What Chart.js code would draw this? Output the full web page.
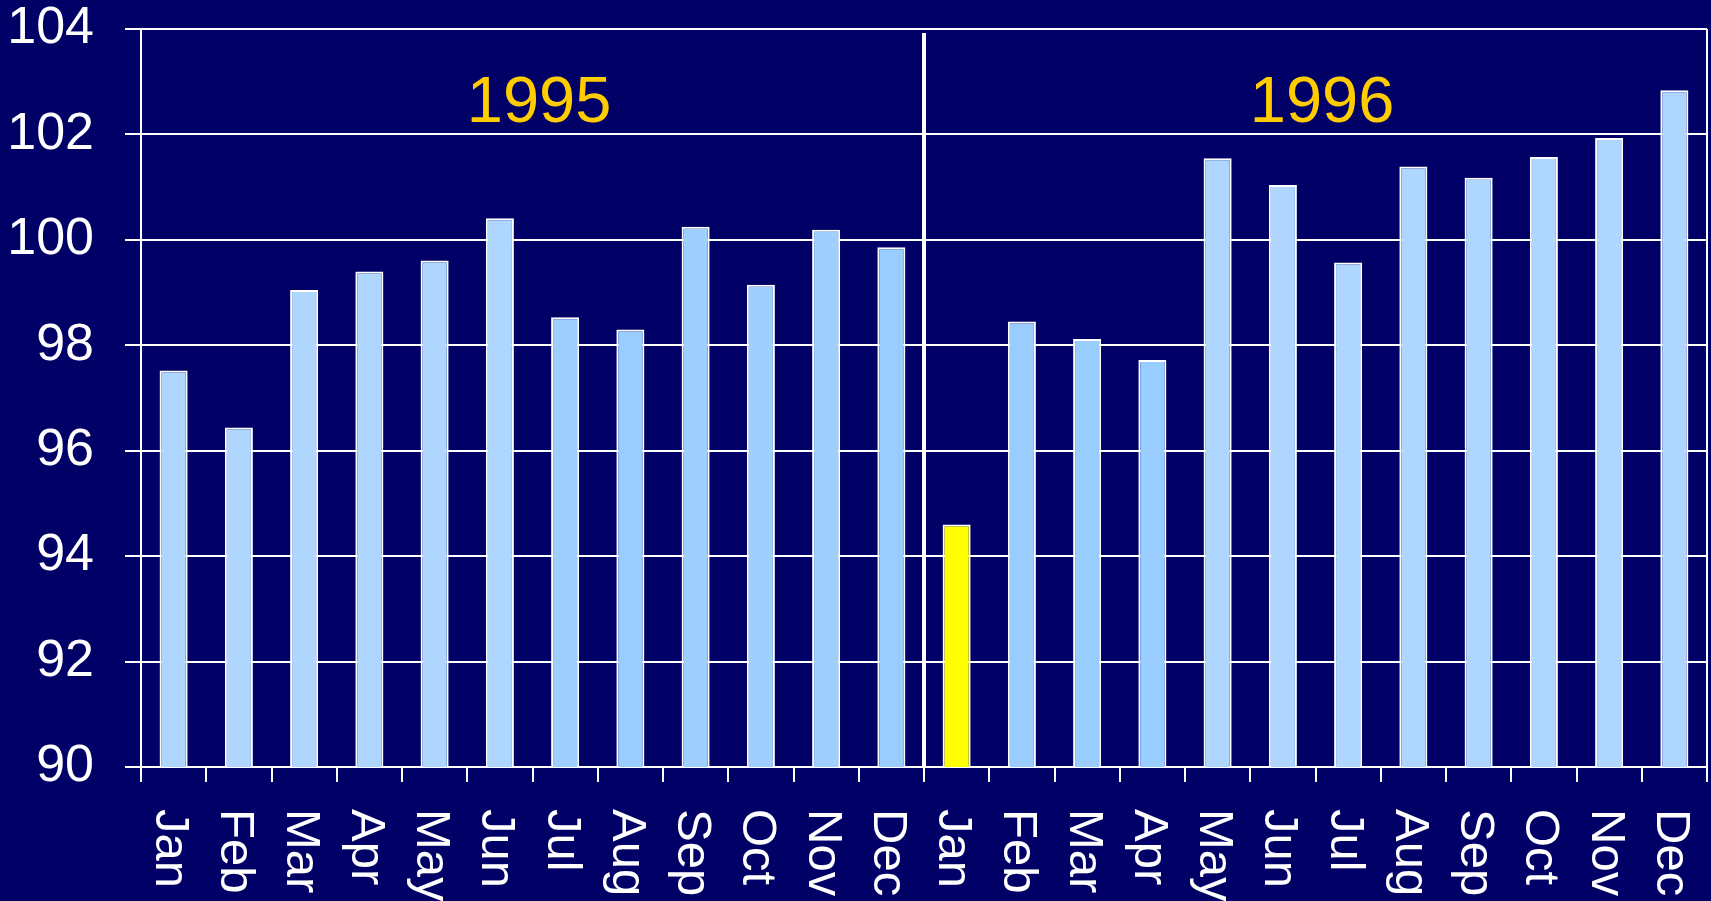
<!DOCTYPE html>
<html>
<head>
<meta charset="utf-8">
<script src="https://cdn.jsdelivr.net/npm/chart.js@4.4.1/dist/chart.umd.min.js"></script>
<style>
  html, body { margin: 0; padding: 0; background: #000066; overflow: hidden; }
  #wrap { width: 1711px; height: 901px; }
</style>
</head>
<body>
<div id="wrap"><canvas id="chartCanvas"></canvas></div>
<script>
// data
const months = ["Jan", "Feb", "Mar", "Apr", "May", "Jun", "Jul", "Aug", "Sep", "Oct", "Nov", "Dec"];
const years = ["1995", "1996"];
const labels = [...months, ...months];

const values1995 = [97.52, 96.44, 99.05, 99.40, 99.61, 100.41, 98.53, 98.30, 100.25, 99.15, 100.19, 99.86];
const values1996 = [94.60, 98.45, 98.12, 97.72, 101.55, 101.04, 99.57, 101.39, 101.18, 101.57, 101.93, 102.84];
const values = [...values1995, ...values1996];

const yTicks = [90, 92, 94, 96, 98, 100, 102, 104];

// bar fill (a couple of shades of light blue, Jan 96 highlighted)
const LIGHT = "#AED6FF";
const MID = "#9FCFFF";
const DARK = "#99CCFF";
const barColors = [
    LIGHT, LIGHT, LIGHT, LIGHT, LIGHT, LIGHT, MID, DARK, MID, MID, MID, DARK,
    "#FFFF00", DARK, DARK, DARK, LIGHT, LIGHT, LIGHT, LIGHT, LIGHT, LIGHT, LIGHT, LIGHT,
];

const FONT = "'Liberation Sans', Arial, sans-serif";

// year titles, divider, right frame and rotated month labels
const extras = {
    id: "extras",
    afterDatasetsDraw(chart) {
        const { ctx, chartArea, scales } = chart;
        const x = scales.x;
        ctx.save();

        // right frame
        ctx.strokeStyle = "#ffffff";
        ctx.lineWidth = 2;
        ctx.beginPath();
        ctx.moveTo(chartArea.right, chartArea.top);
        ctx.lineTo(chartArea.right, chartArea.bottom);
        ctx.stroke();

        // divider between the two years
        const divX = x.getPixelForValue(11.5);
        ctx.lineWidth = 4;
        ctx.beginPath();
        ctx.moveTo(divX, chartArea.top + 4);
        ctx.lineTo(divX, chartArea.bottom);
        ctx.stroke();

        // year titles
        ctx.fillStyle = "#FFCC00";
        ctx.font = `65px ${FONT}`;
        ctx.textAlign = "center";
        ctx.textBaseline = "alphabetic";
        ctx.fillText(years[0], x.getPixelForValue(5.6), 122);
        ctx.fillText(years[1], x.getPixelForValue(17.6), 122);

        // month labels, turned clockwise
        const size = 49;
        const capH = size * 0.716;
        ctx.fillStyle = "#ffffff";
        ctx.font = `${size}px ${FONT}`;
        ctx.textAlign = "left";
        labels.forEach((lab, i) => {
            const px = x.getPixelForTick(i);
            ctx.save();
            ctx.translate(px - capH / 2, chartArea.bottom + 42);
            ctx.rotate(Math.PI / 2);
            ctx.fillText(lab, 0, 0);
            ctx.restore();
        });

        ctx.restore();
    },
};

const ctx = document.getElementById("chartCanvas").getContext("2d");

new Chart(ctx, {
    type: "bar",
    data: {
        labels,
        datasets: [
            {
                data: values,
                backgroundColor: barColors,
                borderColor: "#ffffff",
                borderWidth: 2,
                categoryPercentage: 1,
                barPercentage: 0.43,
            },
        ],
    },
    options: {
        responsive: true,
        maintainAspectRatio: false,
        animation: false,
        devicePixelRatio: 1,
        layout: { padding: { top: 0, right: 4, left: 0, bottom: 0 } },
        plugins: {
            legend: { display: false },
            tooltip: { enabled: false },
        },
        scales: {
            x: {
                afterFit: s => { s.height = 134; },
                ticks: { display: false },
                grid: {
                    display: true,
                    offset: true,
                    drawOnChartArea: false,
                    drawTicks: true,
                    tickLength: 15,
                    color: "#ffffff",
                    lineWidth: 2,
                },
                border: { display: true, color: "#ffffff", width: 2 },
            },
            y: {
                min: yTicks[0],
                max: yTicks[yTicks.length - 1],
                afterFit: s => { s.width = 141; s.paddingTop = 29; },
                afterBuildTicks: s => { s.ticks = yTicks.map(v => ({ value: v })); },
                ticks: {
                    color: "#ffffff",
                    font: { family: FONT, size: 52, lineHeight: 1.1 },
                    padding: 31,
                },
                grid: {
                    color: "#ffffff",
                    lineWidth: 2,
                    tickLength: 16,
                },
                border: { display: true, color: "#ffffff", width: 2 },
            },
        },
    },
    plugins: [extras],
});
</script>
</body>
</html>
